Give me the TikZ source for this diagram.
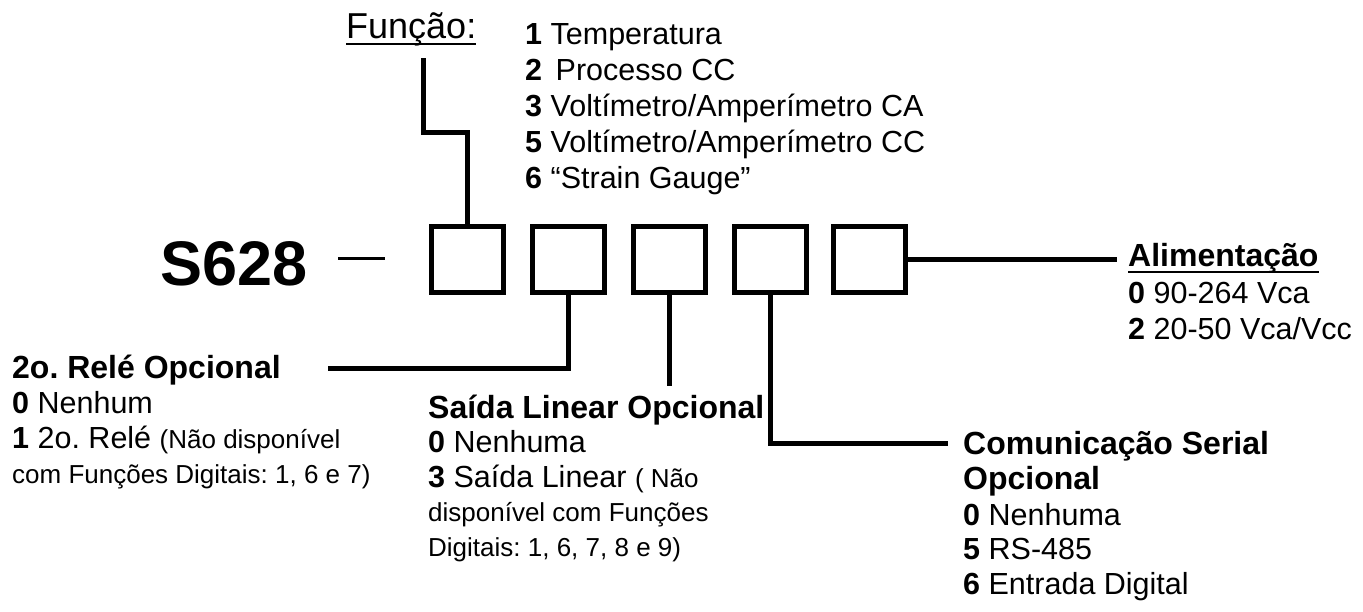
\documentclass[tikz,border=0pt]{standalone}
\usepackage{fontspec}
\setmainfont{Liberation Sans}
\frenchspacing
\begin{document}
\frenchspacing
\begin{tikzpicture}[x=1pt,y=-1pt,
  txt/.style={inner sep=0pt, anchor=base west, font=\fontsize{30.5}{36}\selectfont},
  head/.style={inner sep=0pt, anchor=base west, font=\bfseries\fontsize{32}{38}\selectfont},
  digitbox/.style={draw, line width=5pt, minimum width=72pt, minimum height=66pt, inner sep=0pt},
  conn/.style={line width=5pt},
  uline/.style={line width=2pt}]
\useasboundingbox (0,0) rectangle (1363,611);
\fill[white] (0,0) rectangle (1363,611);
\newcommand\nt{\fontsize{26}{30}\selectfont}

% model code
\node[inner sep=0pt, anchor=base west, font=\bfseries\fontsize{63}{70}\selectfont] (model) at (160,285) {S628};
\coordinate (dashL) at (338,258);
\coordinate (dashR) at (385,258);
\draw[line width=3pt] (dashL) -- (dashR);

% digit boxes
\node[digitbox] (b1) at (467,259) {};
\node[digitbox] (b2) at (568,259) {};
\node[digitbox] (b3) at (669,259) {};
\node[digitbox] (b4) at (770,259) {};
\node[digitbox] (b5) at (869,259) {};

% Funcao
\node[inner sep=0pt, anchor=base west, font=\fontsize{36}{40}\selectfont] (fun) at (346,38) {Função:};
\draw[uline] ([yshift=-6pt]fun.base west) -- ([yshift=-6pt]fun.base east);
\node[txt] (f1) at (525,44) {\textbf{1} Temperatura};
\node[txt] (f2) at (525,80) {\textbf{2}\, Processo CC};
\node[txt] (f3) at (525,116) {\textbf{3} Voltímetro/Amperímetro CA};
\node[txt] (f5) at (525,152) {\textbf{5} Voltímetro/Amperímetro CC};
\node[txt] (f6) at (525,188) {\textbf{6} “Strain Gauge”};
\coordinate (ftop) at (423,58);
\coordinate (fbend) at (423,132);
\draw[conn] (ftop) -- (fbend) -| (b1.north);

% 2o rele
\node[head] (r0) at (12,378) {2o. Relé Opcional};
\node[txt] (r1) at (12,413) {\textbf{0} Nenhum};
\node[txt] (r2) at (12,448) {\textbf{1} 2o. Relé {\nt(Não disponível}};
\node[txt] (r3) at (12,483) {\nt com Funções Digitais: 1, 6 e 7)};
\coordinate (rend) at (328,368);
\draw[conn] (b2.south) |- (rend);

% saida linear
\node[head] (s0) at (428,418) {Saída Linear Opcional};
\node[txt] (s1) at (428,452) {\textbf{0} Nenhuma};
\node[txt] (s2) at (428,487) {\textbf{3} Saída Linear {\nt( Não}};
\node[txt] (s3) at (428,521) {\nt disponível com Funções};
\node[txt] (s4) at (428,556) {\nt Digitais: 1, 6, 7, 8 e 9)};
\draw[conn] (b3.south) -- ++(0,91) coordinate (send);

% comunicacao
\node[head] (c0) at (963,454) {Comunicação Serial};
\node[head] (c1) at (963,489) {Opcional};
\node[txt] (c2) at (963,525) {\textbf{0} Nenhuma};
\node[txt] (c3) at (963,559) {\textbf{5} RS-485};
\node[txt] (c4) at (963,594) {\textbf{6} Entrada Digital};
\coordinate (cend) at (948,443);
\draw[conn] (b4.south) |- (cend);

% alimentacao
\node[head] (a0) at (1128,266) {Alimentação};
\draw[uline] ([yshift=-6pt]a0.base west) -- ([yshift=-6pt]a0.base east);
\node[txt] (a1) at (1128,303) {\textbf{0} 90-264 Vca};
\node[txt] (a2) at (1128,339) {\textbf{2} 20-50 Vca/Vcc};
\coordinate (aend) at (1117,259);
\draw[conn] (b5.east) -- (aend);
\end{tikzpicture}
\end{document}
